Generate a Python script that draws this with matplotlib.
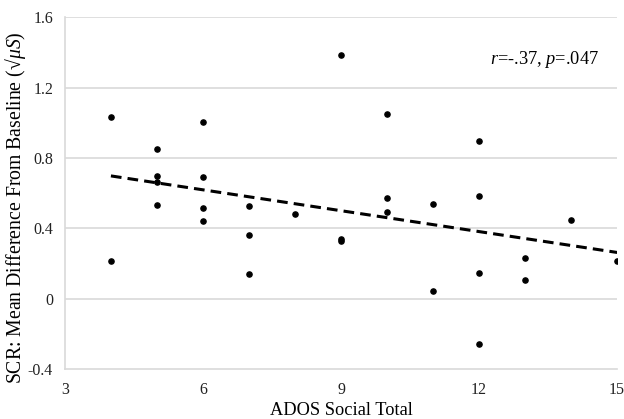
import matplotlib.pyplot as plt
import numpy as np

plt.rcParams['font.family'] = ['Liberation Serif', 'DejaVu Serif']
plt.rcParams['mathtext.fontset'] = 'custom'
plt.rcParams['mathtext.rm'] = 'Liberation Serif'
plt.rcParams['mathtext.it'] = 'Liberation Serif:italic'

# ADOS social total vs SCR mean difference
ados = [4, 4, 5, 5, 5, 5, 6, 6, 6, 6, 7, 7, 7, 8, 9, 9, 9,
        10, 10, 10, 11, 11, 12, 12, 12, 12, 13, 13, 14, 15]
scr = [1.035, 0.213, 0.853, 0.70, 0.664, 0.535, 1.003, 0.69, 0.514, 0.444,
       0.525, 0.365, 0.143, 0.482, 1.383, 0.34, 0.33,
       1.047, 0.575, 0.493, 0.54, 0.043, 0.895, 0.584, 0.145, -0.255,
       0.234, 0.105, 0.446, 0.215]
xticks = [3, 6, 9, 12, 15]
yticks = [-0.4, 0, 0.4, 0.8, 1.2, 1.6]
ylabels = ['-0.4', '0', '0.4', '0.8', '1.2', '1.6']

fig = plt.figure(figsize=(6.24, 4.19), dpi=100)
ax = fig.add_axes([0.104, 0.119, 0.885, 0.840])

for yv in yticks[1:]:
    ax.axhline(yv, color='#d9d9d9', lw=1.2, zorder=0)

ax.scatter(ados, scr, s=14, c='black', zorder=3)

# linear trend line
slope, icpt = np.polyfit(ados, scr, 1)
tx = np.array([min(ados), max(ados)])
ax.plot(tx, slope * tx + icpt, color='black', lw=2.2, ls=(0, (3.5, 2)), zorder=2)

ax.set_xlim(3, 15)
ax.set_ylim(-0.4, 1.6)
ax.set_xticks(xticks)
ax.set_yticks(yticks)
ax.set_yticklabels(ylabels)
ax.tick_params(length=0, labelsize=11.5, colors='#222222')
ax.tick_params(axis='x', pad=9)
ax.tick_params(axis='y', pad=8.5)
for s in ['top', 'right']:
    ax.spines[s].set_visible(False)
for s in ['left', 'bottom']:
    ax.spines[s].set_color('#d9d9d9')
    ax.spines[s].set_linewidth(1.2)

ax.set_xlabel('ADOS Social Total', fontsize=13.2, labelpad=3)
fig.text(16 / 624, 1 - 208 / 419, r'SCR: Mean Difference From Baseline (√$\mathit{\mu S}$)',
         fontsize=14.2, rotation=90, ha='center', va='center')

ax.text(14.6, 1.36, r'$\mathit{r}$=-.37, $\mathit{p}$=.047', fontsize=13.2, ha='right', va='center')

fig.savefig('out.png', dpi=100)
